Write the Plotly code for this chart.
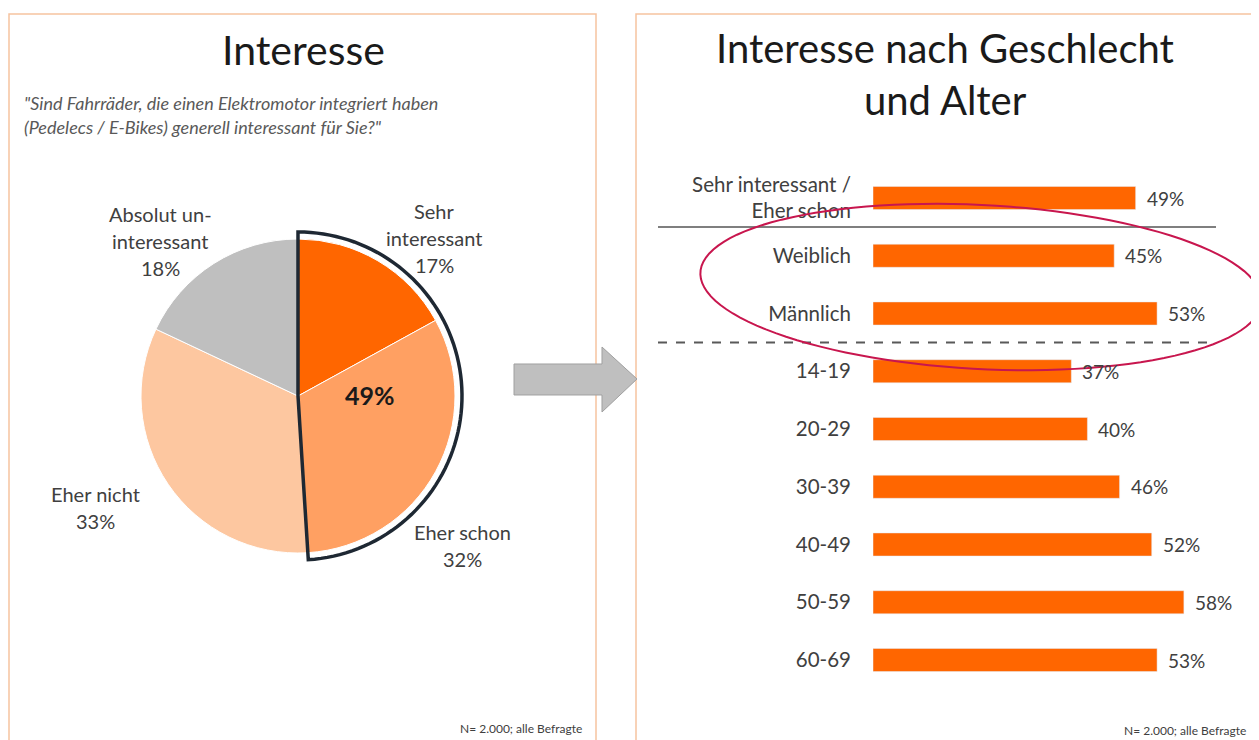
import numpy as np
import plotly.graph_objects as go

W, H = 1259, 740
OFF = 8  # the page body adds an 8px margin, so every position is drawn 8px earlier

# pie data
pie_labels = ["Sehr interessant", "Eher schon", "Eher nicht", "Absolut uninteressant"]
pie_values = [17, 32, 33, 18]
pie_colors = ["#FF6600", "#FFA062", "#FDC7A0", "#BFBFBF"]
pie_label_lines = [["Sehr", "interessant"], ["Eher schon"], ["Eher nicht"], ["Absolut un-", "interessant"]]

# bar data
bar_categories = ["Sehr interessant /<br>Eher schon", "Weiblich", "Männlich",
                  "14-19", "20-29", "30-39", "40-49", "50-59", "60-69"]
bar_values = [49, 45, 53, 37, 40, 46, 52, 58, 53]

footnote = "N= 2.000; alle Befragte"
question = ['"Sind Fahrräder, die einen Elektromotor integriert haben',
            '(Pedelecs / E-Bikes) generell interessant für Sie?"']

FONT = "Lato"
TXT = "#404040"


def px(x):
    return (x - OFF) / W


def py(y):
    return 1 - (y - OFF) / H


fig = go.Figure()

# pie (left panel)
cx, cy, r = 298, 396, 157
fig.add_trace(go.Pie(
    labels=pie_labels, values=pie_values, sort=False, direction="clockwise",
    rotation=0, marker=dict(colors=pie_colors, line=dict(color="white", width=1)),
    textinfo="none", hoverinfo="label+percent", showlegend=False,
    domain=dict(x=[px(cx - r), px(cx + r)], y=[py(cy + r), py(cy - r)]),
))

# bars (right panel)
x0_bar, px_per_pct = 873, 5.36
x1_bar = 1240
fig.add_trace(go.Bar(
    x=bar_values, y=bar_categories, orientation="h",
    marker=dict(color="#FF6600"), showlegend=False,
))
for cat, v in zip(bar_categories, bar_values):
    fig.add_annotation(x=v, y=cat, xref="x", yref="y", text=f"{v}%", showarrow=False,
                       xanchor="left", xshift=9, font=dict(family=FONT, size=19, color=TXT))

step = 57.75
fig.update_layout(
    width=W, height=H, margin=dict(l=0, r=0, t=0, b=0),
    paper_bgcolor="white", plot_bgcolor="rgba(0,0,0,0)",
    bargap=0.6,
    xaxis=dict(domain=[px(x0_bar), px(x1_bar)], range=[0, (x1_bar - x0_bar) / px_per_pct],
               visible=False, fixedrange=True),
    yaxis=dict(domain=[py(660 + step / 2), py(198 - step / 2)], autorange="reversed",
               type="category", showgrid=False, zeroline=False, showline=False,
               ticks="", ticklabelstandoff=21,
               tickfont=dict(family=FONT, size=20.5, color=TXT)),
    font=dict(family=FONT, color=TXT),
)

shapes = []
# panel borders
for xa, xb in [(9, 596), (636, 1252)]:
    shapes.append(dict(type="rect", xref="paper", yref="paper",
                       x0=px(xa), x1=px(xb), y0=py(770), y1=py(14),
                       line=dict(color="#F6C3A0", width=1.5), layer="below"))

# highlight outline around Sehr interessant + Eher schon
share = (pie_values[0] + pie_values[1]) / sum(pie_values)
R = 164
th = np.linspace(0, 2 * np.pi * share, 80)
pts = [(cx, cy)] + [(cx + R * np.sin(t), cy - R * np.cos(t)) for t in th]
path = "M " + " L ".join(f"{px(a):.5f},{py(b):.5f}" for a, b in pts) + " Z"
shapes.append(dict(type="path", xref="paper", yref="paper", path=path,
                   line=dict(color="#1E2833", width=3.5)))

# arrow
arrow = [(514, 364), (602, 364), (602, 347), (637, 379), (602, 412), (602, 395), (514, 395)]
apath = "M " + " L ".join(f"{px(a):.5f},{py(b):.5f}" for a, b in arrow) + " Z"
shapes.append(dict(type="path", xref="paper", yref="paper", path=apath,
                   fillcolor="#BFBFBF", line=dict(color="#A0A0A0", width=1)))

# separators
shapes.append(dict(type="line", xref="paper", yref="y", x0=px(658), x1=px(1216), y0=0.5, y1=0.5,
                   line=dict(color="#7F7F7F", width=2)))
shapes.append(dict(type="line", xref="paper", yref="y", x0=px(658), x1=px(1216), y0=2.5, y1=2.5,
                   line=dict(color="#595959", width=2, dash="dash")))

# red ellipse (slightly tilted)
ecx, ecy, ea, eb, rot = 981, 287, 281, 82, np.deg2rad(3)
t = np.linspace(0, 2 * np.pi, 120)
ex = ecx + ea * np.cos(t) * np.cos(rot) - eb * np.sin(t) * np.sin(rot)
ey = ecy + ea * np.cos(t) * np.sin(rot) + eb * np.sin(t) * np.cos(rot)
epath = "M " + " L ".join(f"{px(a):.5f},{py(b):.5f}" for a, b in zip(ex, ey)) + " Z"
shapes.append(dict(type="path", xref="paper", yref="paper", path=epath,
                   line=dict(color="#C8164E", width=2)))

fig.update_layout(shapes=shapes)


def note(text, x, y, size=20, color=TXT, xanchor="center", **kw):
    fig.add_annotation(text=text, x=px(x), y=py(y), xref="paper", yref="paper",
                       showarrow=False, xanchor=xanchor, yanchor="middle",
                       font=dict(family=FONT, size=size, color=color), **kw)


# titles
note("Interesse", 303, 50, size=41, color="#1A1A1A")
note("Interesse nach Geschlecht", 945, 48, size=40, color="#1A1A1A")
note("und Alter", 945, 100, size=40, color="#1A1A1A")
for i, line in enumerate(question):
    note(f"<i>{line}</i>", 22, 103 + 24 * i, size=18, color="#595959", xanchor="left")

# pie labels
label_pos = [(434, 211), (462, 532), (95, 494), (160, 214)]
for lines, v, (lx, ly) in zip(pie_label_lines, pie_values, label_pos):
    for j, line in enumerate(lines + [f"{v}%"]):
        note(line, lx, ly + 27 * j)
note(f"<b>{pie_values[0] + pie_values[1]}%</b>", 370, 395, size=25, color="#1A1A1A")

# footnotes
note(footnote, 584, 728, size=12, xanchor="right")
note(footnote, 1248, 730, size=12, xanchor="right")

fig.write_html("out.html")
